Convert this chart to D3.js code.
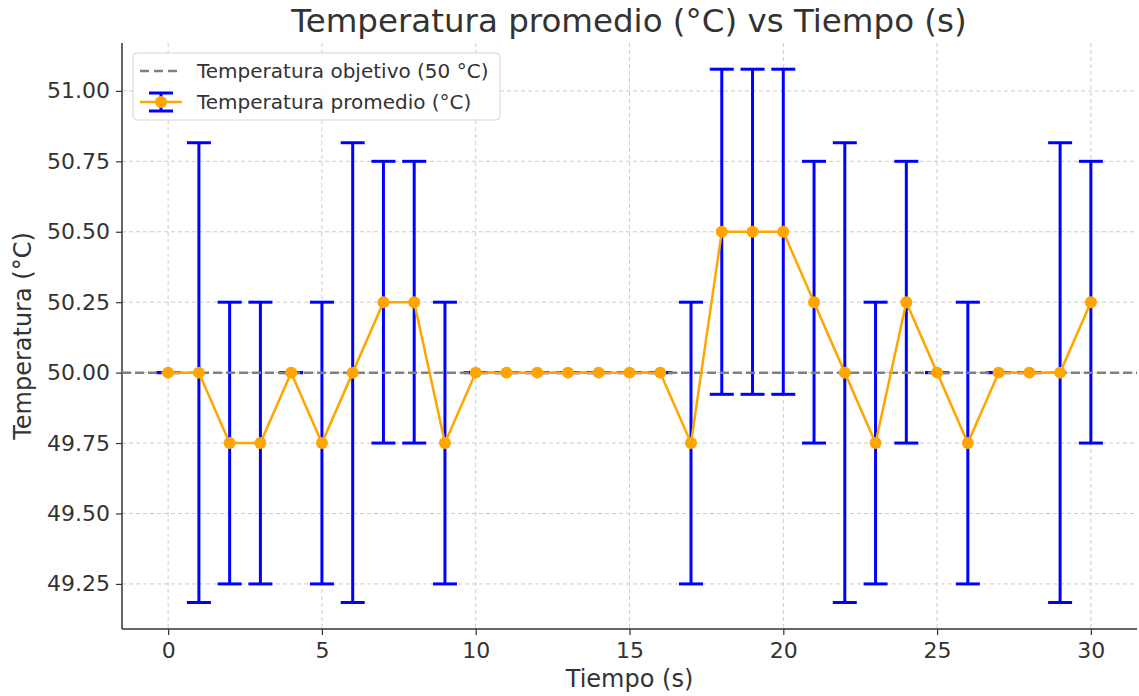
<!DOCTYPE html>
<html>
<head>
<meta charset="utf-8">
<script src="https://cdn.jsdelivr.net/npm/d3@7"></script>
<style>
  body { margin: 0; background: #fff; }
  text { font-family: "DejaVu Sans", sans-serif; fill: #333; }
</style>
</head>
<body>
<div id="chart"></div>
<script>
// Data
var tiempo = [0, 1, 2, 3, 4, 5, 6, 7, 8, 9, 10, 11, 12, 13, 14, 15, 16, 17, 18, 19, 20, 21, 22, 23, 24, 25, 26, 27, 28, 29, 30];
var temperatura = [50.00, 50.00, 49.75, 49.75, 50.00, 49.75, 50.00, 50.25, 50.25, 49.75, 50.00, 50.00, 50.00, 50.00, 50.00, 50.00, 50.00, 49.75, 50.50, 50.50, 50.50, 50.25, 50.00, 49.75, 50.25, 50.00, 49.75, 50.00, 50.00, 50.00, 50.25];
var errores = [0, 0.816, 0.5, 0.5, 0, 0.5, 0.816, 0.5, 0.5, 0.5, 0, 0, 0, 0, 0, 0, 0, 0.5, 0.577, 0.577, 0.577, 0.5, 0.816, 0.5, 0.5, 0, 0.5, 0, 0, 0.816, 0.5];
var objetivo = 50;
var xTicks = [0, 5, 10, 15, 20, 25, 30];
var yTicks = [49.25, 49.50, 49.75, 50.00, 50.25, 50.50, 50.75, 51.00];

function initializeChart() {
    d3.select("#chart").select("svg").remove();

    var margin = { top: 43, right: 2, bottom: 67, left: 122 },
        width = 1139 - margin.left - margin.right,
        height = 696 - margin.top - margin.bottom;

    var root = d3.select("#chart").append("svg")
        .attr("width", 1139)
        .attr("height", 696);

    var svg = root.append("g")
        .attr("transform", `translate(${margin.left},${margin.top})`);

    var x = d3.scaleLinear().domain([-1.5, 31.5]).range([0, width]);
    var y = d3.scaleLinear().domain([49.09, 51.17]).range([height, 0]);

    // Grid
    svg.append("g").selectAll("line").data(xTicks).enter().append("line")
        .attr("x1", d => x(d)).attr("x2", d => x(d))
        .attr("y1", 0).attr("y2", height)
        .attr("stroke", "#cccccc").attr("stroke-width", 1).attr("stroke-dasharray", "4,3");
    svg.append("g").selectAll("line").data(yTicks).enter().append("line")
        .attr("x1", 0).attr("x2", width)
        .attr("y1", d => y(d)).attr("y2", d => y(d))
        .attr("stroke", "#cccccc").attr("stroke-width", 1).attr("stroke-dasharray", "4,3");

    // Axes
    var xAxis = svg.append("g")
        .attr("transform", `translate(0,${height})`)
        .call(d3.axisBottom(x).tickValues(xTicks).tickSize(6).tickPadding(7));
    var yAxis = svg.append("g")
        .call(d3.axisLeft(y).tickValues(yTicks).tickFormat(d3.format(".2f")).tickSize(6).tickPadding(6));
    [xAxis, yAxis].forEach(function (a) {
        a.select(".domain").attr("stroke", "#333").attr("stroke-width", 1.5);
        a.selectAll(".tick line").attr("stroke", "#333").attr("stroke-width", 1.2);
        a.selectAll(".tick text").attr("font-size", 22).attr("fill", "#262626")
            .style("font-family", "DejaVu Sans");
    });
    xAxis.select(".domain").attr("d", `M0,0H${width}`);
    yAxis.select(".domain").attr("d", `M0,0V${height}`);

    // Error bars
    var eb = svg.append("g");
    var cap = 12;
    tiempo.forEach(function (t, i) {
        var lo = temperatura[i] - errores[i], hi = temperatura[i] + errores[i];
        var g = eb.append("g").attr("stroke", "#0000ff").attr("stroke-width", 3);
        g.append("line").attr("x1", x(t)).attr("x2", x(t)).attr("y1", y(lo)).attr("y2", y(hi));
        g.append("line").attr("x1", x(t) - cap).attr("x2", x(t) + cap).attr("y1", y(lo)).attr("y2", y(lo));
        g.append("line").attr("x1", x(t) - cap).attr("x2", x(t) + cap).attr("y1", y(hi)).attr("y2", y(hi));
    });

    // Target line
    svg.append("line")
        .attr("x1", 0).attr("x2", width)
        .attr("y1", y(objetivo)).attr("y2", y(objetivo))
        .attr("stroke", "#808080").attr("stroke-width", 2.5).attr("stroke-dasharray", "9,4");

    // Average line
    var line = d3.line().x((d, i) => x(tiempo[i])).y(d => y(d));
    svg.append("path")
        .datum(temperatura)
        .attr("fill", "none")
        .attr("stroke", "#ffa500")
        .attr("stroke-width", 2.5)
        .attr("d", line);
    svg.append("g").selectAll("circle").data(temperatura).enter().append("circle")
        .attr("cx", (d, i) => x(tiempo[i]))
        .attr("cy", d => y(d))
        .attr("r", 6)
        .attr("fill", "#ffa500");

    // Title and labels
    root.append("text")
        .attr("x", 629).attr("y", 32)
        .attr("text-anchor", "middle")
        .attr("font-size", 32.5)
        .text("Temperatura promedio (°C) vs Tiempo (s)");
    root.append("text")
        .attr("x", margin.left + x(15)).attr("y", 687)
        .attr("text-anchor", "middle")
        .attr("font-size", 24)
        .text("Tiempo (s)");
    root.append("text")
        .attr("transform", `translate(31,${margin.top + y(50.13)}) rotate(-90)`)
        .attr("text-anchor", "middle")
        .attr("font-size", 24)
        .text("Temperatura (°C)");

    // Legend
    var lg = svg.append("g").attr("transform", "translate(11,10)");
    lg.append("rect")
        .attr("width", 367).attr("height", 67).attr("rx", 4)
        .attr("fill", "white").attr("fill-opacity", 0.85)
        .attr("stroke", "#d6d6d6").attr("stroke-width", 1);
    lg.append("line")
        .attr("x1", 7).attr("x2", 49).attr("y1", 18).attr("y2", 18)
        .attr("stroke", "#808080").attr("stroke-width", 2.5).attr("stroke-dasharray", "9,5");
    lg.append("text").attr("x", 64).attr("y", 25).attr("font-size", 20)
        .text("Temperatura objetivo (50 °C)");
    var li = lg.append("g").attr("stroke", "#0000ff").attr("stroke-width", 3);
    li.append("line").attr("x1", 28).attr("x2", 28).attr("y1", 40).attr("y2", 58);
    li.append("line").attr("x1", 16).attr("x2", 40).attr("y1", 40).attr("y2", 40);
    li.append("line").attr("x1", 16).attr("x2", 40).attr("y1", 58).attr("y2", 58);
    lg.append("line")
        .attr("x1", 7).attr("x2", 49).attr("y1", 49).attr("y2", 49)
        .attr("stroke", "#ffa500").attr("stroke-width", 2.5);
    lg.append("circle").attr("cx", 28).attr("cy", 49).attr("r", 6).attr("fill", "#ffa500");
    lg.append("text").attr("x", 64).attr("y", 56).attr("font-size", 20)
        .text("Temperatura promedio (°C)");
}

document.addEventListener('DOMContentLoaded', initializeChart);
</script>
</body>
</html>
